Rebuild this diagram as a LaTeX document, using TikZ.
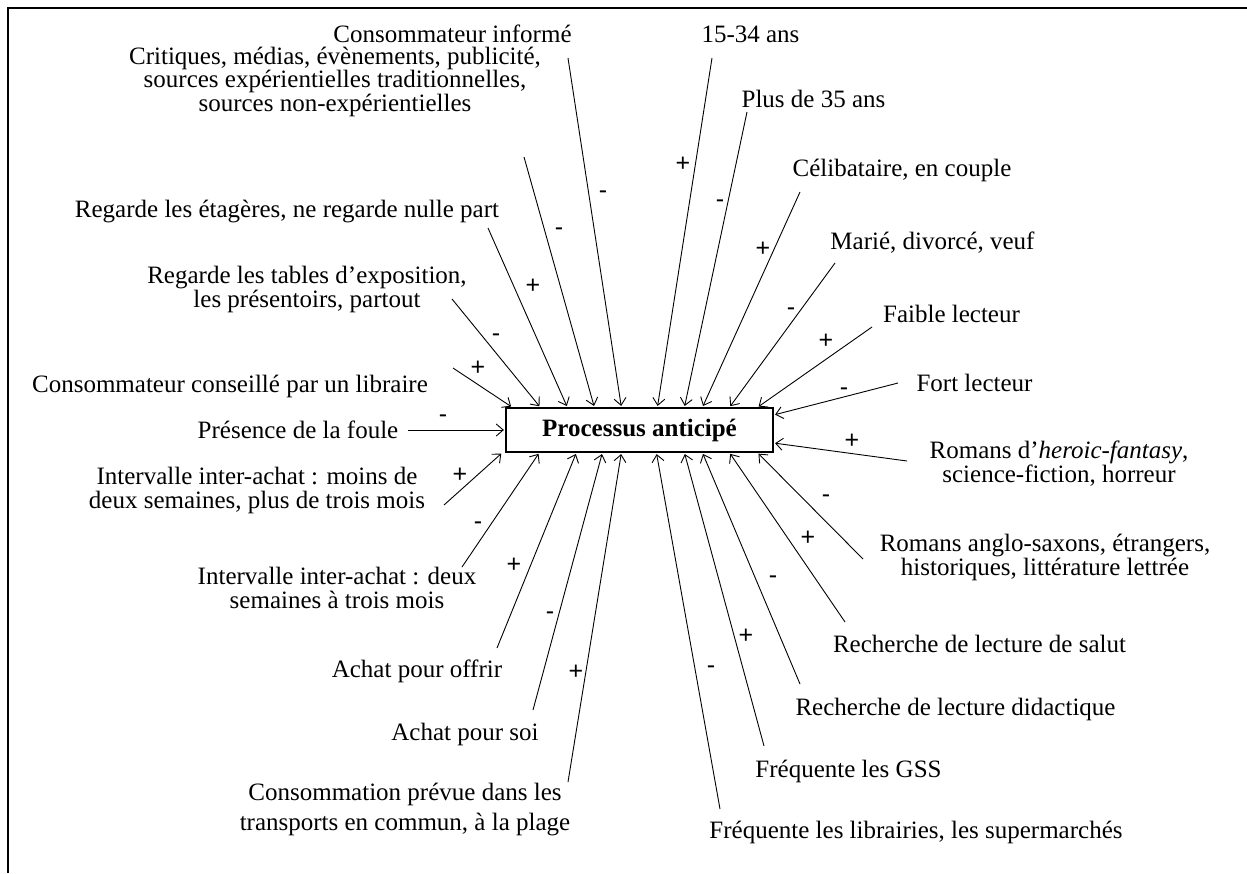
\documentclass[tikz,border=0pt]{standalone}
\usepackage{fontspec}
\setmainfont{Liberation Serif}
\newfontfamily\signfont{Liberation Sans}
\usetikzlibrary{arrows.meta}

\begin{document}
\begin{tikzpicture}[
  x=1pt, y=-1pt,
  lab/.style={anchor=base, align=center, inner sep=0pt, font={\fontsize{25}{23.5}\selectfont\lineskiplimit -100pt\relax}},
  proc/.style={draw, line width=1.2pt, minimum width=267pt, minimum height=44pt, inner sep=0pt, font=\fontsize{25}{24}\selectfont\bfseries},
  sgn/.style={anchor=base, yshift=-8pt, inner sep=0pt, font=\signfont\fontsize{25}{24}\selectfont},
  arr/.style={-{Straight Barb[length=7pt,width=12pt]}, line width=0.9pt, shorten >=1.5pt},
  frame/.style={line width=2.4pt}
]
\useasboundingbox (0,0) rectangle (1247,873);
\draw[frame] (8,873) -- (8,8) -- (1247,8);

\node[proc] (box) at (639.5,430) {Processus anticipé};

% labels, left side (multi-line ones sit on their last line)
\node[lab] (inf) at (452.5,42) {Consommateur informé};
\node[lab] (crit) at (335,111) {Critiques, médias, évènements, publicité,\\sources expérientielles traditionnelles,\\sources non-expérientielles};
\node[lab] (etag) at (287,217) {Regarde les étagères, ne regarde nulle part};
\node[lab] (tabl) at (307,307) {Regarde les tables d’exposition,\\les présentoirs, partout};
\node[lab] (cons) at (230,392) {Consommateur conseillé par un libraire};
\node[lab] (foule) at (298,438) {Présence de la foule};
\node[lab] (int1) at (257,508) {Intervalle inter-achat : moins de\\deux semaines, plus de trois mois};
\node[lab] (int2) at (337,608) {Intervalle inter-achat : deux\\semaines à trois mois};
\node[lab] (offr) at (417,677) {Achat pour offrir};
\node[lab] (soi) at (465,740) {Achat pour soi};
\node[lab] (plage) at (405,830) {Consommation prévue dans les\\[6pt]transports en commun, à la plage};

% labels, right side
\node[lab] (age1) at (750.5,42) {15-34 ans};
\node[lab] (age2) at (813.5,107) {Plus de 35 ans};
\node[lab] (celib) at (902,176) {Célibataire, en couple};
\node[lab] (marie) at (932.5,249) {Marié, divorcé, veuf};
\node[lab] (faib) at (951.5,322) {Faible lecteur};
\node[lab] (fort) at (974.5,391) {Fort lecteur};
\node[lab] (hero) at (1059,482) {Romans d’\textit{heroic-fantasy},\\science-fiction, horreur};
\node[lab] (anglo) at (1045,575) {Romans anglo-saxons, étrangers,\\historiques, littérature lettrée};
\node[lab] (salut) at (979.5,652) {Recherche de lecture de salut};
\node[lab] (didac) at (955.5,715) {Recherche de lecture didactique};
\node[lab] (gss) at (848.5,777) {Fréquente les GSS};
\node[lab] (libr) at (916,838) {Fréquente les librairies, les supermarchés};

% start points of the arrows
\coordinate (s-inf) at (568,58);
\coordinate (s-crit) at (524,157);
\coordinate (s-etag) at (488,228);
\coordinate (s-tabl) at (452,299);
\coordinate (s-cons) at (453,368);
\coordinate (s-foule) at (408,430);
\coordinate (s-int1) at (444,505);
\coordinate (s-int2) at (462,567);
\coordinate (s-offr) at (497,648);
\coordinate (s-soi) at (533,710);
\coordinate (s-plage) at (568,782);
\coordinate (s-age1) at (712,58);
\coordinate (s-age2) at (747,112);
\coordinate (s-celib) at (800,192);
\coordinate (s-marie) at (835,263);
\coordinate (s-faib) at (872,327);
\coordinate (s-fort) at (898,383);
\coordinate (s-hero) at (907,461);
\coordinate (s-anglo) at (863,559);
\coordinate (s-salut) at (845,622);
\coordinate (s-didac) at (800,684);
\coordinate (s-gss) at (764,746);
\coordinate (s-libr) at (720,809);

% arrows into the box
\draw[arr] (s-cons) -- ([xshift=7pt]box.north west);
\draw[arr] (s-tabl) -- ([xshift=35pt]box.north west);
\draw[arr] (s-etag) -- ([xshift=62pt]box.north west);
\draw[arr] (s-crit) -- ([xshift=89pt]box.north west);
\draw[arr] (s-inf) -- ([xshift=116pt]box.north west);
\draw[arr] (s-age1) -- ([xshift=152pt]box.north west);
\draw[arr] (s-age2) -- ([xshift=179pt]box.north west);
\draw[arr] (s-celib) -- ([xshift=197pt]box.north west);
\draw[arr] (s-marie) -- ([xshift=224pt]box.north west);
\draw[arr] (s-faib) -- ([xshift=252pt]box.north west);
\draw[arr] (s-fort) -- ([yshift=15pt]box.east);
\draw[arr] (s-hero) -- ([yshift=-13pt]box.east);
\draw[arr] (s-foule) -- (box.west);
\draw[arr] (s-int1) -- ([xshift=-3pt]box.south west);
\draw[arr] (s-int2) -- ([xshift=34pt]box.south west);
\draw[arr] (s-offr) -- ([xshift=71pt]box.south west);
\draw[arr] (s-soi) -- ([xshift=97pt]box.south west);
\draw[arr] (s-plage) -- ([xshift=116pt]box.south west);
\draw[arr] (s-libr) -- ([xshift=151pt]box.south west);
\draw[arr] (s-gss) -- ([xshift=179pt]box.south west);
\draw[arr] (s-didac) -- ([xshift=197pt]box.south west);
\draw[arr] (s-salut) -- ([xshift=224pt]box.south west);
\draw[arr] (s-anglo) -- ([xshift=252pt]box.south west);

% signs
\node[sgn] (p-inf) at (603,190) {-};
\node[sgn] (p-crit) at (559,227) {-};
\node[sgn] (p-etag) at (533,285) {+};
\node[sgn] (p-tabl) at (496,333) {-};
\node[sgn] (p-cons) at (478,367) {+};
\node[sgn] (p-foule) at (443,414) {-};
\node[sgn] (p-int1) at (460,474) {+};
\node[sgn] (p-int2) at (478,521) {-};
\node[sgn] (p-offr) at (514,564) {+};
\node[sgn] (p-soi) at (550,611) {-};
\node[sgn] (p-plage) at (576,671) {+};
\node[sgn] (p-libr) at (711,665) {-};
\node[sgn] (p-gss) at (746,635) {+};
\node[sgn] (p-didac) at (773,575) {-};
\node[sgn] (p-salut) at (808,537) {+};
\node[sgn] (p-anglo) at (826,494) {-};
\node[sgn] (p-hero) at (852,440) {+};
\node[sgn] (p-fort) at (844,387) {-};
\node[sgn] (p-faib) at (826,340) {+};
\node[sgn] (p-marie) at (791,307) {-};
\node[sgn] (p-celib) at (763,248) {+};
\node[sgn] (p-age2) at (720,199) {-};
\node[sgn] (p-age1) at (683,163) {+};
\end{tikzpicture}
\end{document}
